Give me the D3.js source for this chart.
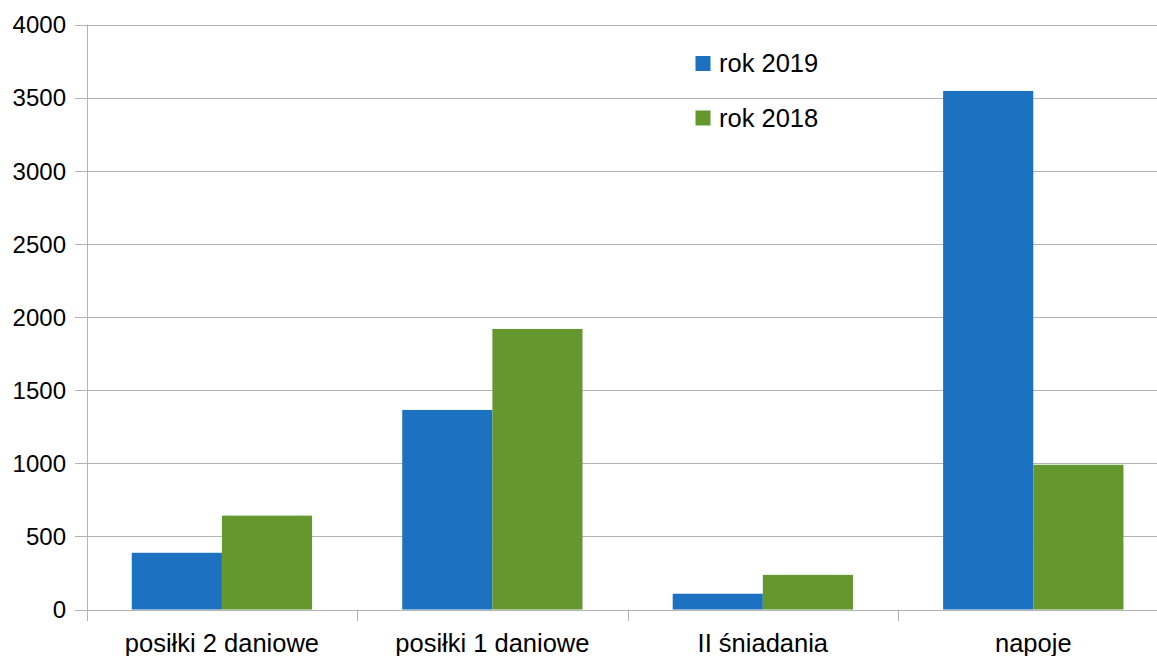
<!DOCTYPE html>
<html><head><meta charset="utf-8">
<script src="https://cdn.jsdelivr.net/npm/d3@7"></script>
<style>html,body{margin:0;padding:0;background:#fff;overflow:hidden}</style>
</head><body>
<svg id="c" width="1157" height="656"></svg>
<script>
const categories = ["posiłki 2 daniowe", "posiłki 1 daniowe", "II śniadania", "napoje"];
const seriesNames = ["rok 2019", "rok 2018"];
const values2019 = [388, 1365, 108, 3547];
const values2018 = [642, 1919, 237, 990];
const yTicks = [0, 500, 1000, 1500, 2000, 2500, 3000, 3500, 4000];
const colors = ["#1c71c1", "#64982f"];

const svg = d3.select("#c");
const plotLeft = 86.7, plotRight = 1168.5, plotTop = 24.7, plotBottom = 609.5;
const font = "'Liberation Sans', Arial, sans-serif";
const gridColor = "#b3b3b3";

const x = d3.scaleBand().domain(categories).range([plotLeft, plotRight]).paddingInner(0).paddingOuter(0);
const y = d3.scaleLinear().domain([0, 4000]).range([plotBottom, plotTop]);
const xs = d3.scaleBand().domain(seriesNames).range([0, x.bandwidth()]).paddingInner(0).paddingOuter(0.5);

// gridlines
svg.append("g").selectAll("line").data(yTicks).join("line")
  .attr("x1", 75).attr("x2", 1157)
  .attr("y1", d => Math.round(y(d)) + 0.5).attr("y2", d => Math.round(y(d)) + 0.5)
  .attr("stroke", gridColor).attr("stroke-width", 1);

// y axis line
svg.append("line").attr("x1", Math.round(plotLeft)+0.5).attr("x2", Math.round(plotLeft)+0.5)
  .attr("y1", y(4000)).attr("y2", 621).attr("stroke", gridColor);

// bottom ticks
svg.append("g").selectAll("line").data(categories).join("line")
  .attr("x1", c => Math.round(x(c) + x.bandwidth()) + 0.5)
  .attr("x2", c => Math.round(x(c) + x.bandwidth()) + 0.5)
  .attr("y1", plotBottom).attr("y2", 621).attr("stroke", gridColor);

// y labels
svg.append("g").selectAll("text").data(yTicks).join("text")
  .attr("x", 66).attr("y", d => y(d)).attr("dy", "0.36em")
  .attr("text-anchor", "end").attr("font-family", font).attr("font-size", 24)
  .attr("fill", "#000").text(d => d);

// bars
const data = [values2019, values2018];
data.forEach((vals, si) => {
  svg.append("g").selectAll("rect").data(categories).join("rect")
    .attr("x", (c) => x(c) + xs(seriesNames[si]))
    .attr("width", xs.bandwidth())
    .attr("y", (c, i) => y(vals[i]))
    .attr("height", (c, i) => y(0) - y(vals[i]))
    .attr("fill", colors[si]);
});

// x labels
svg.append("g").selectAll("text").data(categories).join("text")
  .attr("x", c => x(c) + x.bandwidth()/2).attr("y", 652)
  .attr("text-anchor", "middle").attr("font-family", font).attr("font-size", 25.5)
  .attr("fill", "#000").text(c => c);

// legend
const leg = svg.append("g");
seriesNames.forEach((s, i) => {
  leg.append("rect").attr("x", 695.5).attr("y", 56 + i*54.5).attr("width", 15).attr("height", 15).attr("fill", colors[i]);
  leg.append("text").attr("x", 719).attr("y", 72 + i*54.5).attr("font-family", font).attr("font-size", 25.5)
    .attr("fill", "#000").text(s);
});
</script>
</body></html>
